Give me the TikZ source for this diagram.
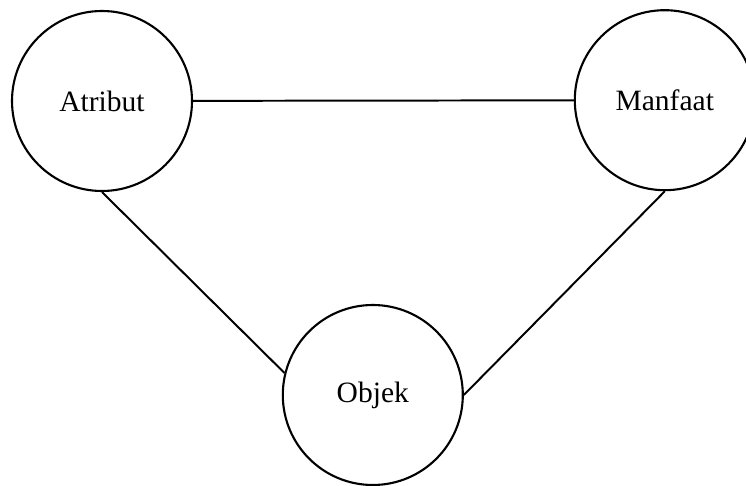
\documentclass[tikz,border=0pt]{standalone}
\usepackage{fontspec}
\setmainfont{Liberation Serif}
\usepackage{tikz}
\usetikzlibrary{positioning}

\tikzset{
  konsep/.style={circle,draw,line width=1.5pt,minimum size=4.5cm,inner sep=0pt,
    font=\fontsize{21}{25}\selectfont},
  garis/.style={line width=1.4pt}
}

\begin{document}
\begin{tikzpicture}
\useasboundingbox (0,0) rectangle (18.65,12.125);
\node[konsep] (atribut) at (2.55,9.6) {Atribut};
\node[konsep] (manfaat) at (16.62,9.62) {Manfaat};
\node[konsep] (objek) at (9.32,2.25) {Objek};
\draw[garis] (atribut) -- (manfaat);
\draw[garis] (atribut.south) -- (objek.166);
\draw[garis] (manfaat.south) -- (objek.east);
\end{tikzpicture}
\end{document}
